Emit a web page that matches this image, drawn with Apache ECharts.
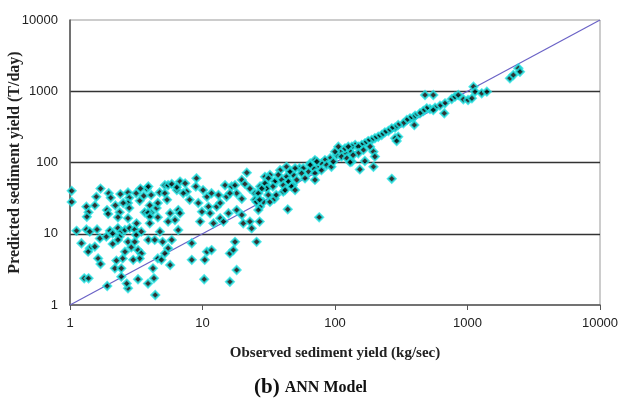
<!DOCTYPE html>
<html>
<head>
<meta charset="utf-8">
<script src="https://cdn.jsdelivr.net/npm/echarts@6/dist/echarts.min.js"></script>
<style>
  html, body { margin: 0; padding: 0; background: #fff; }
  #chart { width: 621px; height: 398px; }
</style>
</head>
<body>
<div id="chart"></div>
<script>
// observed (kg/sec) vs predicted (T/day)
const observed = [
  1.03, 1.03, 1.7, 1.58, 1.96, 2.03, 2.4, 2.74, 2.8, 3.16, 3.8, 3.6, 4.1, 4.75, 5.2,
  1.33, 1.38, 1.54, 1.9, 1.94, 2.2, 2.37, 2.3, 2.74, 2.8, 3.36, 4.0, 3.66, 4.1, 4.5, 4.6, 2.74,
  1.12, 1.33, 1.41, 1.6, 2.0, 2.1, 2.3, 2.44, 2.6, 2.37, 2.82, 3.08, 3.45, 3.16,
  1.68, 1.88, 2.1, 2.3, 2.74, 2.9, 3.08, 1.22, 1.41, 1.54, 1.37, 3.26, 3.45, 3.36, 3.0, 2.5, 2.24, 2.6,
  1.63, 1.7, 3.9, 4.36, 5.0, 5.5, 4.6, 5.2, 2.18, 2.44, 4.23, 1.28, 1.38, 2.44, 3.26, 3.88, 4.3,
  1.91, 2.74, 4.4, 4.6, 3.88, 4.0,
  1.34, 2.52, 3.18, 4.0, 4.77, 5.7, 8.0, 9.6, 12.1, 7.6, 5.2, 3.9, 3.4, 4.9, 2.68,
  21.6, 5.5, 5.86, 6.76, 7.4, 6.4, 7.16, 9.0, 8.9, 10.1, 10.8, 11.7, 13.2, 14.8, 16.6, 17.6, 19.8,
  20.9, 22.8, 24.9, 27.2, 18.1, 19.8, 15.2, 16.1, 5.4, 6.56, 6.76, 9.3, 9.9, 11.1, 11.4, 12.8, 13.6,
  14.4, 15.7, 18.1, 19.8, 20.3, 22.8, 23.5, 27.2, 28.8, 6.2, 5.5, 6.56, 5.86, 8.3, 17.6, 16.1, 17.1,
  25.6, 10.8, 11.7, 10.4, 8.3, 18.1, 5.7, 10.3, 16.1, 24.9, 13.6,
  6.4, 29.6, 32.3, 38.5, 43, 47, 54, 65, 70.6, 73, 44, 48, 36, 30.5, 40.7,
  142, 134, 130, 119, 109, 103, 100, 112, 123, 134, 92, 84, 79, 86.5, 94, 73, 68.6, 65, 63, 70.6,
  70.6, 57.6, 56, 59.4, 50, 48.4, 51.4, 45.7, 43, 44.4, 47, 50, 37.3, 39.6, 40.7, 42, 35, 34, 31.4,
  29.6, 30.5, 31.4, 32.3, 35, 36, 28, 26.4, 25.6, 27, 26.4, 27, 44, 76, 119, 106, 97, 79,
  478, 552, 760, 676, 620, 569, 521, 492, 464, 438, 402, 390, 368, 348, 397, 328, 300, 284, 268,
  253, 238, 225, 300, 284, 292, 212, 200, 189, 178, 168, 159, 150, 126, 184, 164, 150, 137, 195,
  200, 168, 154, 195, 268, 130, 668, 552,
  805, 852, 930, 1010, 1080, 1110, 1140, 1280, 1400, 2090, 2220, 2420, 2490
]
const predicted = [
  40, 28, 43, 33, 37, 32, 36, 38, 32, 37, 43, 34, 35, 38, 48,
  24, 20, 25, 21.5, 19, 25, 20, 17, 27, 23, 29, 25, 20, 19.7, 23, 17, 16.5,
  11, 11.5, 10.7, 11.5, 11, 10.1, 12, 10.7, 11.3, 9.1, 12, 11.5, 10.7, 9.6,
  8.6, 9.1, 7.2, 8.2, 7.7, 6.45, 7.7, 7.35, 6.25, 6.6, 5.6, 5.9, 5.3, 4.5, 4.3, 4.5, 4.2, 5.6,
  4.5, 3.76, 8.2, 8.2, 7.7, 6.25, 4.5, 5.3, 3.27, 3.27, 3.27, 2.37, 2.37, 2.5, 2.3, 2.0, 2.37,
  1.85, 1.72, 1.38, 27, 19.7, 17.3,
  17.3, 27, 14, 14, 10.7, 19.4, 30, 14.8, 14, 39, 37, 46, 43, 4.3, 2.0,
  72, 48, 50, 54, 51, 41, 37, 60, 46, 41, 33, 37, 35, 48, 46, 48, 57,
  50, 43, 37, 46, 37, 31, 33, 37, 30, 21.5, 19.4, 27, 20.4, 24, 19.4, 24, 16.5,
  14.8, 19.4, 21.5, 18.3, 14, 14.8, 11.9, 24, 28, 15.6, 14.8, 11.3, 8.2, 7.35, 7.7, 5.3, 5.9,
  7.7, 5.6, 5.9, 4.3, 4.3, 3.1, 3.64, 2.3, 2.12, 30, 27,
  45, 63, 67, 78, 87, 74, 83, 97, 108, 87, 57, 48, 54, 48, 39,
  176, 167, 142, 135, 142, 127, 142, 121, 115, 103, 115, 108, 97, 92, 87, 103, 83, 92, 74, 70.5,
  57, 83, 70.5, 60, 83, 67, 57, 74, 63, 54, 46, 41, 67, 57, 48, 41, 54, 46, 60,
  51, 43, 35, 28, 31, 35, 43, 37, 28, 30, 21.5, 14.8, 22, 17, 158, 167, 103, 78,
  886, 886, 778, 677, 627, 588, 564, 576, 528, 491, 454, 425, 417, 395, 336, 355, 336, 308, 302,
  277, 265, 243, 230, 219, 200, 230, 219, 207, 200, 186, 176, 167, 167, 167, 150, 135, 127, 142,
  121, 105, 80, 87, 59, 101, 491, 546,
  839, 886, 771, 754, 796, 1160, 986, 936, 986, 1520, 1690, 2100, 1880
]
// 1:1 line
const lineX = [1, 10000]
const lineY = [1, 10000]

const points = observed.map((x, i) => [x, predicted[i]])
const linePoints = lineX.map((x, i) => [x, lineY[i]])

const serif = '"Liberation Serif", "DejaVu Serif", serif'
const sans = '"Liberation Sans", Arial, sans-serif'

const chart = echarts.init(document.getElementById('chart'))

chart.setOption({
  animation: false,
  backgroundColor: '#fff',
  title: {
    left: 'center',
    top: 372,
    text: '{a|(b)} {b|ANN Model}',
    textStyle: {
      rich: {
        a: { fontFamily: serif, fontWeight: 'bold', fontSize: 21, color: '#111' },
        b: { fontFamily: serif, fontWeight: 'bold', fontSize: 16, color: '#111' }
      }
    }
  },
  grid: {
    left: 70,
    right: 21,
    top: 20,
    bottom: 93,
    outerBoundsMode: 'none',
    containLabel: false,
    show: true,
    borderColor: '#999',
    borderWidth: 1
  },
  xAxis: {
    type: 'log',
    logBase: 10,
    min: 1,
    max: 10000,
    name: 'Observed sediment yield (kg/sec)',
    nameLocation: 'middle',
    nameGap: 41,
    nameMoveOverlap: false,
    nameTextStyle: { fontFamily: serif, fontWeight: 'bold', fontSize: 15, color: '#222' },
    axisLine: { lineStyle: { color: '#555', width: 1.5 } },
    axisTick: { show: true, length: 5, lineStyle: { color: '#555' } },
    axisLabel: {
      color: '#222', fontSize: 13, fontFamily: sans, margin: 12,
      formatter: (v) => String(Math.round(v))
    },
    splitLine: { show: false }
  },
  yAxis: {
    type: 'log',
    logBase: 10,
    min: 1,
    max: 10000,
    name: 'Predicted sediment yield (T/day)',
    nameLocation: 'middle',
    nameGap: 47,
    nameMoveOverlap: false,
    nameTextStyle: { fontFamily: serif, fontWeight: 'bold', fontSize: 16, color: '#222' },
    axisLine: { lineStyle: { color: '#555', width: 1.5 } },
    axisTick: { show: false },
    axisLabel: {
      color: '#222', fontSize: 13, fontFamily: sans, margin: 12,
      formatter: (v) => String(Math.round(v))
    },
    splitLine: {
      show: true,
      showMinLine: false,
      showMaxLine: false,
      lineStyle: { color: '#333', width: 1.3 }
    }
  },
  series: [
    {
      type: 'line',
      data: linePoints,
      showSymbol: false,
      z: 1,
      lineStyle: { color: '#6a62c6', width: 1.2 }
    },
    {
      type: 'scatter',
      data: points,
      symbol: 'diamond',
      symbolSize: 8,
      z: 2,
      itemStyle: { color: '#000', borderColor: '#22e4e4', borderWidth: 2 }
    }
  ]
})
</script>
</body>
</html>
